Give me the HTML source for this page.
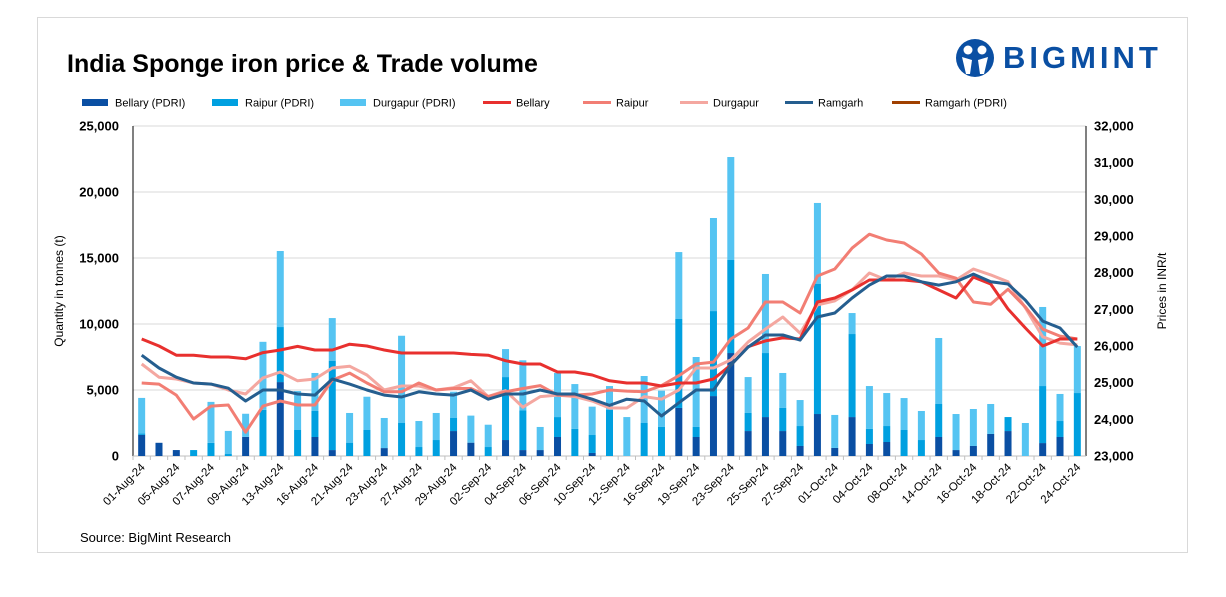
<!DOCTYPE html>
<html><head><meta charset="utf-8">
<style>
html,body{margin:0;padding:0;background:#fff;}
body{width:1226px;height:597px;position:relative;overflow:hidden;font-family:"Liberation Sans",sans-serif;}
#frame{position:absolute;left:37px;top:17px;width:1151px;height:536px;border:1px solid #d9d9d9;box-sizing:border-box;}
#title{position:absolute;left:67px;top:50px;font-size:25px;font-weight:bold;color:#000;}
#brand{position:absolute;left:1003px;top:40px;font-size:31px;font-weight:bold;color:#0a4fa3;letter-spacing:4px;}
#source{position:absolute;left:80px;top:530px;font-size:13px;color:#000;}
svg{position:absolute;left:0;top:0;}
</style></head>
<body>
<div id="frame"></div>
<div id="title">India Sponge iron price &amp; Trade volume</div>
<svg width="1226" height="597">
  <g>
    <circle cx="975" cy="58" r="19" fill="#0a4fa3"/>
    <circle cx="968" cy="50" r="4.5" fill="#fff"/>
    <circle cx="982" cy="50" r="4.5" fill="#fff"/>
    <path d="M962 57 L966 74 L970 74 L972 60 Z M988 57 L984 74 L980 74 L978 60 Z" fill="#fff"/>
  </g>
</svg>
<div id="brand">BIGMINT</div>
<div id="source">Source: BigMint Research</div>
<svg id="chart" width="1226" height="597"></svg>
<script>
const categories=["01-Aug-24","02-Aug-24","05-Aug-24","06-Aug-24","07-Aug-24","08-Aug-24","09-Aug-24","12-Aug-24","13-Aug-24","14-Aug-24","16-Aug-24","20-Aug-24","21-Aug-24","22-Aug-24","23-Aug-24","26-Aug-24","27-Aug-24","28-Aug-24","29-Aug-24","30-Aug-24","02-Sep-24","03-Sep-24","04-Sep-24","05-Sep-24","06-Sep-24","09-Sep-24","10-Sep-24","11-Sep-24","12-Sep-24","13-Sep-24","16-Sep-24","18-Sep-24","19-Sep-24","20-Sep-24","23-Sep-24","24-Sep-24","25-Sep-24","26-Sep-24","27-Sep-24","30-Sep-24","01-Oct-24","03-Oct-24","04-Oct-24","07-Oct-24","08-Oct-24","11-Oct-24","14-Oct-24","15-Oct-24","16-Oct-24","17-Oct-24","18-Oct-24","21-Oct-24","22-Oct-24","23-Oct-24","24-Oct-24"];
const bellaryPdri=[1600,1000,450,0,0,0,1450,0,5600,0,1440,450,0,0,600,0,0,0,1890,1010,0,1210,450,450,1440,0,230,0,0,0,0,3640,1440,4540,7800,1890,2950,1890,760,3180,610,2950,910,1060,0,0,1440,450,760,1670,1890,0,980,1440,0];
const raipurPdri=[100,0,0,450,1000,150,0,3500,4170,1970,1970,6770,1010,1970,0,2500,680,1210,990,0,680,4770,3000,0,1510,2050,1360,3510,0,2500,2200,6740,760,6440,7050,1370,4850,1750,1510,9850,0,6290,1140,1210,1970,1210,2500,0,0,0,1060,0,4320,1210,4770];
const durgapurPdri=[2700,0,0,0,3100,1750,1750,5150,5760,2950,2880,3230,2250,2520,2280,6610,1970,2050,1990,2050,1690,2120,3800,1750,3340,3400,2150,1790,2950,3560,2750,5070,5300,7050,7800,2720,5990,2650,1970,6140,2500,1590,3250,2500,2420,2200,5000,2730,2800,2270,0,2500,5990,2050,3560];
const bellaryPrice=[26190,26000,25750,25750,25700,25700,25650,25820,25890,25990,25890,25890,26050,26000,25890,25810,25810,25810,25810,25770,25750,25600,25510,25510,25290,25290,25210,25050,24990,24990,24910,24990,24990,25100,25480,25980,26140,26220,26190,27200,27310,27530,27800,27800,27800,27750,27530,27310,27880,27690,27010,26490,26000,26190,26190];
const raipurPrice=[24990,24960,24660,24010,24360,24390,23650,24360,24500,24390,24390,25070,25260,24990,24750,24750,24990,24800,24840,24840,24620,24750,24840,24920,24660,24660,24690,24800,24770,24750,24920,25190,25510,25560,26190,26490,27200,27200,26900,27910,28100,28670,29050,28890,28810,28510,27990,27850,27200,27140,27550,27060,26460,26270,26190];
const durgapurPrice=[25510,25150,25100,24990,24960,24800,24690,25130,25290,25050,25100,25400,25450,25210,24800,24910,24910,24800,24860,25050,24620,24780,24330,24620,24660,24620,24500,24310,24310,24620,24550,24800,25400,25400,25620,26110,26460,26790,26350,27120,27230,27530,27990,27800,27990,27910,27910,27800,28100,27940,27750,27040,26250,26080,26030];
const ramgarhPrice=[25750,25400,25150,24990,24960,24850,24500,24800,24800,24690,24660,25100,24960,24800,24660,24610,24750,24690,24660,24800,24550,24690,24690,24800,24690,24690,24550,24380,24550,24500,24090,24450,24800,24800,25480,25970,26300,26300,26160,26790,26900,27310,27660,27910,27910,27750,27660,27750,27960,27750,27690,27250,26680,26490,25970];
const leftTicks=[0,5000,10000,15000,20000,25000];
const rightTicks=[23000,24000,25000,26000,27000,28000,29000,30000,31000,32000];

const svg=document.getElementById('chart');
const NS='http://www.w3.org/2000/svg';
const X0=133,X1=1086,Y0=456,Y1=126;
const bw=(X1-X0)/categories.length;
function xc(i){return X0+bw*(i+0.5);}
function yL(v){return Y0-(v/25000)*(Y0-Y1);}
function yR(v){return Y0-((v-23000)/9000)*(Y0-Y1);}
function mk(tag,attrs,parent){const e=document.createElementNS(NS,tag);for(const k in attrs)e.setAttribute(k,attrs[k]);(parent||svg).appendChild(e);return e;}

// gridlines + left ticks
leftTicks.forEach(v=>{
  if(v>0){const g=mk('line',{x1:X0,x2:X1,y1:yL(v),y2:yL(v),stroke:'#d9d9d9','stroke-width':1});
  
  }
  const t=mk('text',{x:119,y:yL(v)+4.5,'text-anchor':'end','font-size':13,'font-weight':'bold',fill:'#000'});
  t.textContent=v.toLocaleString('en-US');
  
  
});
rightTicks.forEach(v=>{
  const t=mk('text',{x:1094,y:yR(v)+4.5,'text-anchor':'start','font-size':13,'font-weight':'bold',fill:'#000'});
  t.textContent=v.toLocaleString('en-US');
  
  
});
// axis lines
let a=mk('line',{x1:X0,x2:X0,y1:Y1,y2:Y0,stroke:'#000','stroke-width':1});


a=mk('line',{x1:X1,x2:X1,y1:Y1,y2:Y0,stroke:'#000','stroke-width':1});


a=mk('line',{x1:X0,x2:X1,y1:Y0,y2:Y0,stroke:'#bfbfbf','stroke-width':1});



// bars
const bwid=7;
categories.forEach((c,i)=>{
  let base=0;
  [[bellaryPdri,'#0a4fa3','bar-bellary-pdri'],[raipurPdri,'#00a0e0','bar-raipur-pdri'],[durgapurPdri,'#55c4f2','bar-durgapur-pdri']].forEach(([arr,col,nm])=>{
    const v=arr[i];
    if(v>0){
      const r=mk('rect',{x:xc(i)-bwid/2,y:yL(base+v),width:bwid,height:yL(base)-yL(base+v),fill:col});
      
      
    }
    base+=v;
  });
  const tk=mk('line',{x1:X0+bw*i,x2:X0+bw*i,y1:Y0,y2:Y0+4,stroke:'#bfbfbf'});
  
  
  if(i%2===0){
    const t=mk('text',{x:xc(i)+4,y:Y0+12,'text-anchor':'end','font-size':11.5,fill:'#000',transform:`rotate(-45 ${xc(i)+4} ${Y0+12})`});
    t.textContent=c;
    
    
  }
});

// lines
[[durgapurPrice,'#f4a7a0','line-durgapur'],[raipurPrice,'#f27e74','line-raipur'],[bellaryPrice,'#e8302e','line-bellary'],[ramgarhPrice,'#255e8f','line-ramgarh']].forEach(([arr,col,nm])=>{
  const d=arr.map((v,i)=>(i?'L':'M')+xc(i).toFixed(1)+' '+yR(v).toFixed(1)).join(' ');
  const p=mk('path',{d:d,fill:'none',stroke:col,'stroke-width':3,'stroke-linejoin':'round'});
  
  
});

// axis titles
let yt=mk('text',{x:0,y:0,'text-anchor':'middle','font-size':12,fill:'#000',transform:'translate(63 291) rotate(-90)'});
yt.textContent='Quantity in tonnes (t)';


yt=mk('text',{x:0,y:0,'text-anchor':'middle','font-size':12,fill:'#000',transform:'translate(1166 291) rotate(-90)'});
yt.textContent='Prices in INR/t';



// legend
const legend=[['Bellary (PDRI)','#0a4fa3','bar',82],['Raipur (PDRI)','#00a0e0','bar',212],['Durgapur (PDRI)','#55c4f2','bar',340],['Bellary','#e8302e','line',483],['Raipur','#f27e74','line',583],['Durgapur','#f4a7a0','line',680],['Ramgarh','#255e8f','line',785],['Ramgarh (PDRI)','#a04000','line',892]];
legend.forEach(([lab,col,kind,x])=>{
  const g=mk('g',{});
  
  
  if(kind==='bar')mk('rect',{x:x,y:99,width:26,height:7,fill:col},g);
  else mk('line',{x1:x,x2:x+28,y1:102.5,y2:102.5,stroke:col,'stroke-width':3},g);
  const t=mk('text',{x:x+33,y:106.5,'font-size':11,fill:'#000'},g);
  t.textContent=lab;
});
</script>
</body></html>
